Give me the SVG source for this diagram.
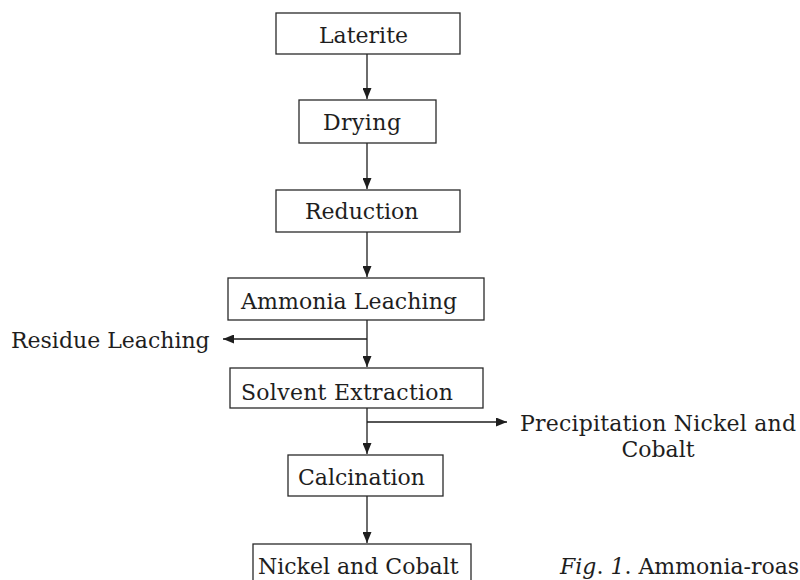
<svg xmlns="http://www.w3.org/2000/svg" width="800" height="580" viewBox="0 0 800 580">
<defs>
<style>
.box{fill:#fff;stroke:#2a2a2a;stroke-width:1.3}
.t{font-family:"DejaVu Serif","Liberation Serif",serif;font-size:22px;fill:#1e1e1e}
.c{fill:none;stroke:#1e1e1e;stroke-width:1.3}
</style>
<marker id="ah" markerUnits="userSpaceOnUse" markerWidth="12" markerHeight="9" refX="11" refY="4.5" orient="auto" viewBox="0 0 12 9">
<path d="M0,0 L11,4.5 L0,9 z" fill="#1e1e1e"/>
</marker>
</defs>
<rect width="800" height="580" fill="#fff"/>
<g id="connectors">
<line class="c" x1="367" y1="54" x2="367" y2="99" marker-end="url(#ah)"/>
<line class="c" x1="367" y1="143" x2="367" y2="189" marker-end="url(#ah)"/>
<line class="c" x1="367" y1="232" x2="367" y2="277" marker-end="url(#ah)"/>
<line class="c" x1="367" y1="320" x2="367" y2="367" marker-end="url(#ah)"/>
<line class="c" x1="367" y1="339" x2="223" y2="339" marker-end="url(#ah)"/>
<line class="c" x1="367" y1="408" x2="367" y2="454" marker-end="url(#ah)"/>
<line class="c" x1="367" y1="422" x2="507" y2="422" marker-end="url(#ah)"/>
<line class="c" x1="367" y1="496" x2="367" y2="543" marker-end="url(#ah)"/>
</g>
<g id="laterite">
<rect class="box" x="276" y="13" width="184" height="41"/>
<text class="t" x="319" y="43">Laterite</text>
</g>
<g id="drying">
<rect class="box" x="299" y="100" width="137" height="43"/>
<text class="t" x="323" y="130" textLength="78">Drying</text>
</g>
<g id="reduction">
<rect class="box" x="276" y="190" width="184" height="42"/>
<text class="t" x="305" y="219">Reduction</text>
</g>
<g id="ammonia-leaching">
<rect class="box" x="228" y="278" width="256" height="42"/>
<text class="t" x="241" y="309" textLength="216">Ammonia Leaching</text>
</g>
<g id="residue-leaching">
<text class="t" x="11" y="348">Residue Leaching</text>
</g>
<g id="solvent-extraction">
<rect class="box" x="230" y="368" width="253" height="40"/>
<text class="t" x="241" y="400" textLength="212">Solvent Extraction</text>
</g>
<g id="precipitation">
<text class="t" x="520" y="431" textLength="276">Precipitation Nickel and</text>
<text class="t" x="658" y="457" text-anchor="middle">Cobalt</text>
</g>
<g id="calcination">
<rect class="box" x="288" y="455" width="155" height="41"/>
<text class="t" x="298" y="485">Calcination</text>
</g>
<g id="nickel-cobalt">
<rect class="box" x="253" y="544" width="218" height="50"/>
<text class="t" x="258" y="574">Nickel and Cobalt</text>
</g>
<g id="caption">
<text class="t" x="560" y="574"><tspan font-style="italic">Fig</tspan>. <tspan font-style="italic">1</tspan>. Ammonia-roas</text>
</g>
</svg>
